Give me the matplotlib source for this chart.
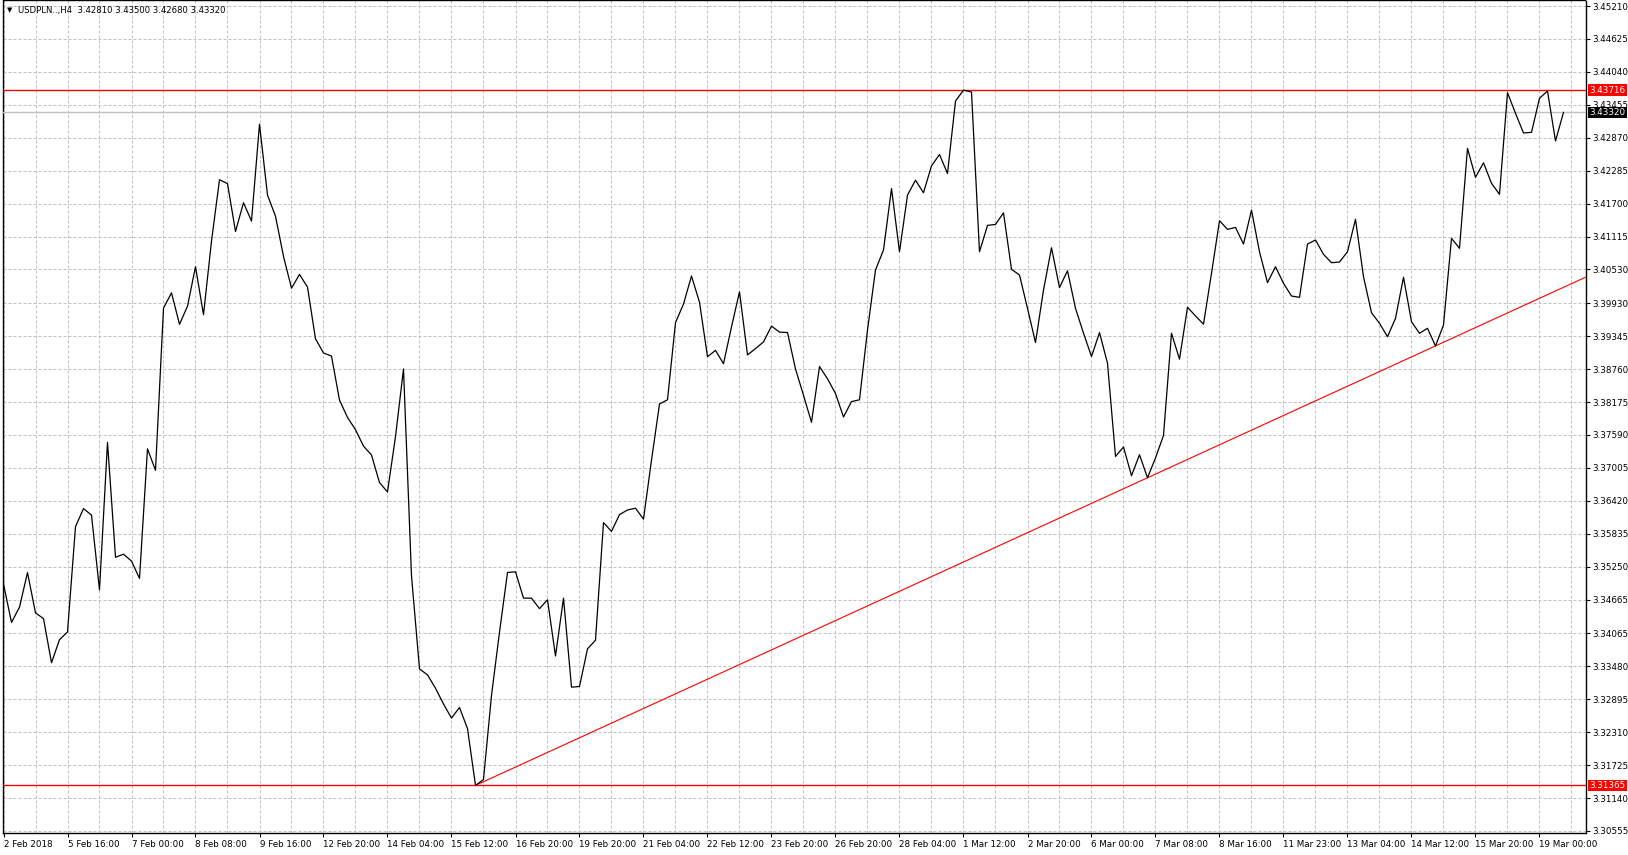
import numpy as np
import matplotlib.pyplot as plt
import matplotlib.transforms as mtransforms

# H4 closes, USDPLN (one per bar)
closes = [
    3.34941, 3.34260, 3.34532, 3.35145, 3.34429, 3.34328, 3.33544, 3.33953,
    3.34090, 3.35962, 3.36282, 3.36166, 3.34838, 3.37460, 3.35417, 3.35472,
    3.35349, 3.35042, 3.37344, 3.36962, 3.39842, 3.40115, 3.39556, 3.39877,
    3.40579, 3.39726, 3.41034, 3.42124, 3.42055, 3.41204, 3.41716, 3.41389,
    3.43110, 3.41851, 3.41476, 3.40762, 3.40197, 3.40442, 3.40217, 3.39298,
    3.39046, 3.38991, 3.38209, 3.37902, 3.37683, 3.37392, 3.37234, 3.36744,
    3.36577, 3.37561, 3.38762, 3.35085, 3.33434, 3.33328, 3.33091, 3.32811,
    3.32560, 3.32749, 3.32374, 3.31365, 3.31469, 3.32965, 3.34088, 3.35147,
    3.35159, 3.34692, 3.34690, 3.34505, 3.34662, 3.33663, 3.34692, 3.33109,
    3.33122, 3.33790, 3.33944, 3.36033, 3.35877, 3.36175, 3.36257, 3.36289,
    3.36095, 3.37142, 3.38140, 3.38215, 3.39586, 3.39916, 3.40414, 3.39947,
    3.38980, 3.39092, 3.38856, 3.39511, 3.40133, 3.39012, 3.39124, 3.39243,
    3.39524, 3.39417, 3.39410, 3.38763, 3.38294, 3.37815, 3.38806, 3.38588,
    3.38326, 3.37909, 3.38183, 3.38215, 3.39454, 3.40520, 3.40876, 3.41968,
    3.40845, 3.41851, 3.42116, 3.41892, 3.42371, 3.42572, 3.42235, 3.43522,
    3.43716, 3.43682, 3.40845, 3.41313, 3.41330, 3.41536, 3.40533, 3.40431,
    3.39840, 3.39232, 3.40165, 3.40916, 3.40208, 3.40508, 3.39840, 3.39398,
    3.38984, 3.39408, 3.38865, 3.37209, 3.37376, 3.36866, 3.37239, 3.36830,
    3.37181, 3.37582, 3.39398, 3.38936, 3.39858, 3.39705, 3.39558, 3.40462,
    3.41396, 3.41242, 3.41277, 3.40982, 3.41584, 3.40845, 3.40296, 3.40579,
    3.40284, 3.40058, 3.40035, 3.40982, 3.41053, 3.40799, 3.40650, 3.40662,
    3.40845, 3.41421, 3.40401, 3.39762, 3.39573, 3.39335, 3.39662, 3.40391,
    3.39602, 3.39396, 3.39485, 3.39170, 3.39543, 3.41083, 3.40906, 3.42682,
    3.42167, 3.42426, 3.42060, 3.41865, 3.43670, 3.43304, 3.42954, 3.42966,
    3.43570, 3.43700, 3.42812, 3.43320,
]

price_ticks = [3.45210, 3.44625, 3.44040, 3.43455, 3.42870, 3.42285, 3.41700,
               3.41115, 3.40530, 3.39930, 3.39345, 3.38760, 3.38175, 3.37590,
               3.37005, 3.36420, 3.35835, 3.35250, 3.34665, 3.34065, 3.33480,
               3.32895, 3.32310, 3.31725, 3.31140, 3.30555]
price_labels = ['%.5f' % p for p in price_ticks]

date_labels = ['2 Feb 2018', '5 Feb 16:00', '7 Feb 00:00', '8 Feb 08:00',
               '9 Feb 16:00', '12 Feb 20:00', '14 Feb 04:00', '15 Feb 12:00',
               '16 Feb 20:00', '19 Feb 20:00', '21 Feb 04:00', '22 Feb 12:00',
               '23 Feb 20:00', '26 Feb 20:00', '28 Feb 04:00', '1 Mar 12:00',
               '2 Mar 20:00', '6 Mar 00:00', '7 Mar 08:00', '8 Mar 16:00',
               '11 Mar 23:00', '13 Mar 04:00', '14 Mar 12:00', '15 Mar 20:00',
               '19 Mar 00:00']
label_step = 8   # bars between date labels
grid_step = 4    # bars between vertical grid lines

high_level = 3.43716
low_level = 3.31365
last_close = 3.43320
trend_bars = [59, 143]
trend_prices = [3.31365, 3.36830]
header = 'USDPLN..,H4  3.42810 3.43500 3.42680 3.43320'

W, H = 1628, 855
FS = 6.3
plt.rcParams['font.family'] = ['DejaVu Sans']

fig = plt.figure(figsize=(W / 100, H / 100), dpi=100)
ax = fig.add_axes([2.5 / W, 22 / H, 1583 / W, 832.5 / H])

bars = np.arange(len(closes))
x_max = 197.75
ax.set_xlim(-0.125, x_max)
ax.set_ylim(3.30519, 3.45308)

# grid
ax.set_yticks(price_ticks)
ax.set_yticklabels(price_labels)
ax.set_xticks(np.arange(0, label_step * len(date_labels), label_step))
ax.set_xticklabels(date_labels, ha='left')
ax.set_xticks(np.arange(0, x_max, grid_step), minor=True)
gkw = dict(color='#c0c0c0', linestyle=(0, (3, 2)), linewidth=0.72)
ax.grid(True, axis='y', which='major', **gkw)
ax.grid(True, axis='x', which='both', **gkw)
ax.set_axisbelow(True)

ax.yaxis.tick_right()
ax.tick_params(axis='y', direction='out', length=3, width=0.8, pad=2,
               labelsize=FS, colors='black')
ax.tick_params(axis='x', which='major', direction='out', length=3, width=0.8,
               pad=2, labelsize=FS)
ax.tick_params(axis='x', which='minor', length=0)
for s in ax.spines.values():
    s.set_color('black')
    s.set_linewidth(1.0)

# price line
ax.plot(bars, closes, color='black', lw=0.9, zorder=5)

# horizontal levels
ax.axhline(high_level, color='#ff0000', lw=1.0, zorder=4)
ax.axhline(low_level, color='#ff0000', lw=1.0, zorder=4)
ax.axhline(last_close, color='#c0c0c0', lw=1.0, zorder=3)

# trend ray from the low through the March low
slope = (trend_prices[1] - trend_prices[0]) / (trend_bars[1] - trend_bars[0])
ax.plot([trend_bars[0], x_max],
        [trend_prices[0], trend_prices[0] + slope * (x_max - trend_bars[0])],
        color='#ff0000', lw=0.8, zorder=4)

# price tags on the right scale
trans = mtransforms.blended_transform_factory(ax.transAxes, ax.transData)
trans = mtransforms.offset_copy(trans, fig=fig, x=4, y=0, units='dots')
for lvl, fc in [(high_level, '#ff0000'), (low_level, '#ff0000'), (last_close, 'black')]:
    ax.text(1.0, lvl, '%.5f' % lvl, transform=trans, ha='left', va='center',
            fontsize=FS, color='white', clip_on=False, zorder=10,
            bbox=dict(boxstyle='square,pad=0.15', fc=fc, ec='none'))

# header
fig.text(7 / W, 1 - 10.5 / H, '\u25bc', fontsize=5, va='center', ha='left')
fig.text(18 / W, 1 - 10.5 / H, header, fontsize=6.1, va='center', ha='left')

fig.savefig('out.png', dpi=100, facecolor='white')
